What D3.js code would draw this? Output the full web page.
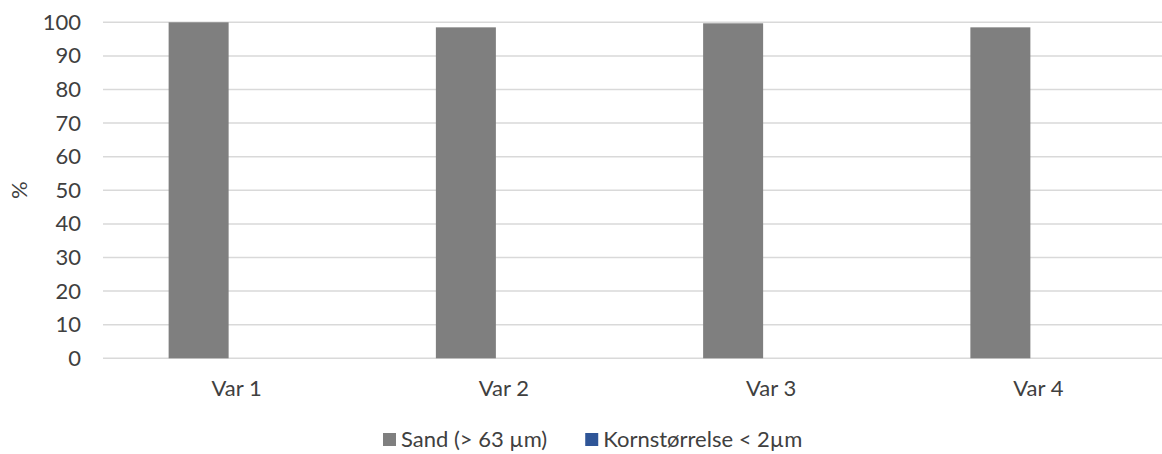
<!DOCTYPE html>
<html>
<head>
<meta charset="utf-8">
<script src="https://cdn.jsdelivr.net/npm/d3@7"></script>
<style>
  html, body { margin: 0; padding: 0; background: #ffffff; }
  svg { display: block; }
  text { font-family: Lato, "Open Sans", sans-serif; fill: #404040; }
</style>
</head>
<body>
<svg id="chart" width="1162" height="454"></svg>
<script>
// Grain-size fractions per sample
const categories = ["Var 1", "Var 2", "Var 3", "Var 4"];
const seriesNames = ["Sand (> 63 µm)", "Kornstørrelse < 2µm"];
const sandValues = [100, 98.5, 99.7, 98.5];
const clayValues = [0, 0, 0, 0];
const yTicks = [0, 10, 20, 30, 40, 50, 60, 70, 80, 90, 100];
const seriesColors = ["#7f7f7f", "#2f5597"];

const svg = d3.select("#chart");
const fontSize = 22;

const plot = { left: 103, right: 1172, top: 22.3, bottom: 358.3 };

const x = d3.scaleBand()
  .domain(categories)
  .range([plot.left, plot.right])
  .padding(0);

const y = d3.scaleLinear()
  .domain([0, 100])
  .range([plot.bottom, plot.top]);

// bars sit inside each category band: 60px each, group starting 68px left of band centre
const inner = d3.scaleBand()
  .domain(seriesNames)
  .range([-68, 52])
  .padding(0);

// horizontal gridlines
svg.append("g")
  .selectAll("line")
  .data(yTicks)
  .join("line")
  .attr("x1", plot.left)
  .attr("x2", 1162)
  .attr("y1", d => y(d))
  .attr("y2", d => y(d))
  .attr("stroke", "#d9d9d9")
  .attr("stroke-width", 1.5);

// y-axis tick labels
const yAxis = d3.axisLeft(y).tickValues(yTicks).tickSize(0).tickPadding(0);
const gy = svg.append("g")
  .attr("transform", `translate(81,0)`)
  .call(yAxis);
gy.select(".domain").remove();
gy.selectAll("text")
  .attr("font-size", fontSize)
  .attr("font-family", "Lato, sans-serif")
  .attr("fill", "#404040");

// y-axis title
svg.append("text")
  .attr("transform", `translate(27,${(plot.top + plot.bottom) / 2}) rotate(-90)`)
  .attr("text-anchor", "middle")
  .attr("font-size", fontSize)
  .text("%");

// bars
const rows = categories.map((c, i) => ({ cat: c, vals: [sandValues[i], clayValues[i]] }));
const groups = svg.append("g")
  .selectAll("g")
  .data(rows)
  .join("g")
  .attr("transform", d => `translate(${x(d.cat) + x.bandwidth() / 2},0)`);

groups.selectAll("rect")
  .data(d => d.vals.map((v, k) => ({ name: seriesNames[k], value: v, k })))
  .join("rect")
  .attr("x", d => inner(d.name))
  .attr("width", inner.bandwidth())
  .attr("y", d => y(d.value))
  .attr("height", d => y(0) - y(d.value))
  .attr("fill", d => seriesColors[d.k]);

// x-axis category labels
const xAxis = d3.axisBottom(x).tickSize(0).tickPadding(0);
const gx = svg.append("g")
  .attr("transform", `translate(0,${plot.bottom})`)
  .call(xAxis);
gx.select(".domain").remove();
gx.selectAll("text")
  .attr("font-size", fontSize)
  .attr("font-family", "Lato, sans-serif")
  .attr("fill", "#404040")
  .attr("dy", null)
  .attr("y", 38);

// legend
const legend = svg.append("g").attr("transform", "translate(383,0)");
let cursor = 0;
seriesNames.forEach((name, k) => {
  const item = legend.append("g").attr("transform", `translate(${cursor},0)`);
  item.append("rect")
    .attr("x", 0)
    .attr("y", 433)
    .attr("width", 13)
    .attr("height", 13)
    .attr("fill", seriesColors[k]);
  const t = item.append("text")
    .attr("x", 18)
    .attr("y", 447)
    .attr("font-size", fontSize)
    .text(name);
  cursor += 18 + t.node().getComputedTextLength() + 38;
});
</script>
</body>
</html>
